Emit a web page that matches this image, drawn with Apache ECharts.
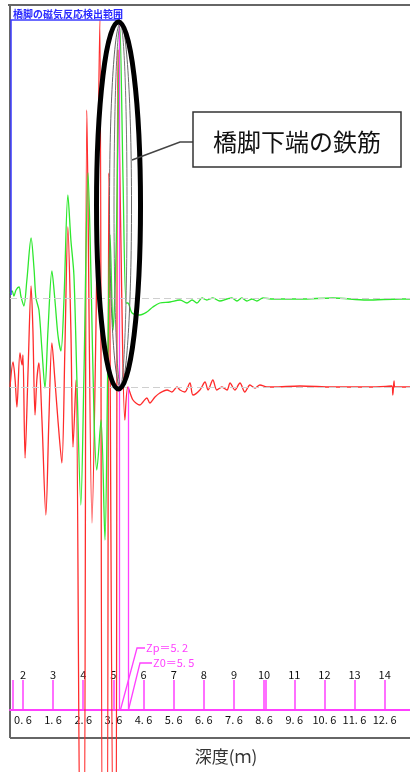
<!DOCTYPE html>
<html>
<head>
<meta charset="utf-8">
<script src="https://cdn.jsdelivr.net/npm/echarts@6/dist/echarts.min.js"></script>
<style>
  html, body { margin: 0; padding: 0; background: #fff; }
  #chart { width: 410px; height: 772px; }
</style>
</head>
<body>
<div id="chart"></div>
<script>
// upper scale numbers and the depth label offset (depth = upper - 1.4)
const upperTicks = [2, 3, 4, 5, 6, 7, 8, 9, 10, 11, 12, 13, 14]
const tickMarks = [1.65, 2, 3, 4, 5, 6, 7, 8, 9, 10, 10.07, 11, 12, 13, 14]
const depthOffset = 1.4
const zp = 5.2
const z0 = 5.5

// [upper scale, amplitude]  green trace
const greenSignal = [
  [1.57, 0.5], [1.64, 0.7], [1.70, 0.2], [1.77, 0.8], [1.87, 1.1], [1.93, 0.2], [2.03, -0.8],
  [2.13, 1.8], [2.27, 6.0], [2.37, 2.8], [2.43, 0.0], [2.53, -1.2], [2.63, -5.2], [2.73, -9.0],
  [2.83, -3.2], [2.96, 2.7], [3.06, -0.2], [3.16, -3.7], [3.26, -5.3], [3.36, -0.2], [3.49, 10.3],
  [3.59, 5.8], [3.69, 2.3], [3.79, -8.2], [3.92, -20.7], [4.02, -8.2], [4.16, 12.5], [4.26, 1.8],
  [4.36, -12.2], [4.45, -17.2], [4.59, -12.2], [4.72, -24.2], [4.82, -5.2], [4.89, 6.3],
  [4.99, -3.2], [5.09, 4.8], [5.22, 27.0], [5.32, 11.8], [5.42, -0.5], [5.48, -0.5], [5.62, -1.5],
  [5.88, -1.7], [6.11, -1.4], [6.31, -0.9], [6.54, -0.5], [6.88, -0.4], [7.21, -0.2], [7.44, -0.5],
  [7.61, -0.2], [7.77, -0.5], [7.94, 0.0], [8.10, -0.2], [8.30, 0.0], [8.53, -0.3], [8.77, -0.1],
  [8.93, 0.0], [9.10, -0.3], [9.26, 0.0], [9.43, -0.3], [9.60, -0.1], [9.76, -0.3], [9.96, 0.0],
  [10.29, -0.1], [11.19, -0.1], [12.28, 0.0], [13.41, -0.2], [14.50, -0.1], [14.84, -0.1]
]

// [upper scale, amplitude]  red trace
const redSignal = [
  [1.57, 0], [1.67, 2.5], [1.74, 0.7], [1.80, -2.0], [1.90, 3.4], [1.97, 2.2], [2.00, 3.2],
  [2.07, -7.1], [2.17, 1.7], [2.27, 10.1], [2.33, 5.7], [2.40, -2.8], [2.46, 0.7], [2.53, 2.4],
  [2.63, -3.3], [2.76, -12.8], [2.86, -3.3], [2.96, 4.4], [3.06, 0.7], [3.16, -3.3], [3.29, -7.6],
  [3.39, 3.7], [3.49, 16.0], [3.59, 5.7], [3.66, -6.0], [3.76, 0.7], [3.92, -50], [4.02, -50],
  [4.12, 27.7], [4.29, -13.6], [4.42, 5.7], [4.55, 36.7], [4.65, -50], [4.78, -50], [4.85, 21.4],
  [5.01, -50], [5.08, -50], [5.15, 33.7], [5.28, 8.7], [5.38, -3.3], [5.48, 0], [5.65, -1.3],
  [5.88, -1.8], [5.98, -1.5], [6.11, -1.1], [6.21, -1.6], [6.38, -1.0], [6.54, -0.6], [6.78, -0.3],
  [6.94, -0.5], [7.11, 0], [7.21, -0.3], [7.37, -0.5], [7.54, 0.4], [7.64, -0.8], [7.87, -0.3],
  [8.04, 0.5], [8.14, -0.3], [8.30, 0.7], [8.43, -0.3], [8.60, 0], [8.77, -0.3], [8.87, 0.4],
  [9.03, -0.3], [9.20, 0.4], [9.36, -0.5], [9.53, 0.2], [9.70, -0.1], [9.86, 0.2], [10.09, 0],
  [10.29, 0], [11.19, 0.1], [12.28, 0], [13.51, 0], [14.24, 0.1], [14.27, -0.8], [14.31, 0.6],
  [14.34, 0], [14.84, 0]
]

const FONT = "'Noto Sans CJK JP', 'Noto Sans', sans-serif"
const MAGENTA = '#ff40ff'

const chart = echarts.init(document.getElementById('chart'), null, { renderer: 'canvas' })

const xMin = 1.57
const xMax = 14.84

const option = {
  animation: false,
  backgroundColor: '#fff',
  grid: { left: 10, right: 0, top: 5, bottom: 62 },
  xAxis: [
    {
      type: 'value', min: xMin, max: xMax, position: 'bottom',
      splitLine: { show: false },
      axisLine: { show: true, onZero: false, lineStyle: { color: MAGENTA, width: 2 } },
      axisTick: { show: true, inside: true, length: 30, customValues: tickMarks,
        lineStyle: { color: MAGENTA, width: 1.5 } },
      axisLabel: {
        customValues: upperTicks, margin: 4, color: '#111', fontSize: 11, fontFamily: FONT,
        formatter: v => (v - depthOffset).toFixed(1).replace('.', '. ')
      }
    },
    {
      type: 'value', min: xMin, max: xMax, position: 'bottom',
      splitLine: { show: false },
      axisLine: { show: false, onZero: false },
      axisTick: { show: false },
      axisLabel: {
        customValues: upperTicks, inside: true, margin: 30, color: '#111', fontSize: 11, fontFamily: FONT,
        formatter: v => String(v)
      }
    }
  ],
  yAxis: [
    { type: 'value', show: false, min: -41.2, max: 29.3, splitLine: { show: false } },
    { type: 'value', show: false, min: -32.3, max: 38.2, splitLine: { show: false } }
  ],
  series: [
    {
      name: 'red', type: 'line', xAxisIndex: 0, yAxisIndex: 1, data: redSignal,
      smooth: 0.3, symbol: 'none', clip: false,
      lineStyle: { color: '#ff2b2b', width: 1.3 },
      markLine: {
        silent: true, symbol: 'none', label: { show: false },
        lineStyle: { color: '#cfcfcf', type: [7, 4], width: 1.2 },
        data: [
          { yAxis: 0 },
          [{ coord: [z0, 0], lineStyle: { color: MAGENTA, type: 'solid', width: 1.3 } }, { coord: [z0, -32.3] }]
        ]
      }
    },
    {
      name: 'green', type: 'line', xAxisIndex: 0, yAxisIndex: 0, data: greenSignal,
      smooth: 0.3, symbol: 'none', clip: false,
      lineStyle: { color: '#2ee82e', width: 1.3 },
      markLine: {
        silent: true, symbol: 'none', label: { show: false },
        lineStyle: { color: '#cfcfcf', type: [7, 4], width: 1.2 },
        data: [
          { yAxis: 0 },
          [{ coord: [zp, 27.3], lineStyle: { color: MAGENTA, type: 'solid', width: 1.3 } }, { coord: [zp, -41.2] }]
        ]
      }
    }
  ]
}

chart.setOption(option)

// annotations placed from the axis scale
const px = v => chart.convertToPixel({ xAxisIndex: 0 }, v)
const baseY = 710
const xZp = px(zp)
const xZ0 = px(z0)
const xLeft = px(xMin)
const xRight = px(xMax)
const ellX = px(5.17)

chart.setOption({
  graphic: [
    // frame
    { type: 'line', z: 0, shape: { x1: xLeft - 2, y1: 5, x2: xRight, y2: 5 }, style: { stroke: '#666', lineWidth: 2 } },
    { type: 'line', z: 0, shape: { x1: xLeft, y1: 5, x2: xLeft, y2: 738 }, style: { stroke: '#666', lineWidth: 2 } },
    { type: 'line', z: 0, shape: { x1: xLeft, y1: 738, x2: xRight, y2: 738 }, style: { stroke: '#666', lineWidth: 2 } },
    // detection range bracket
    { type: 'polyline', z: 5, shape: { points: [[xLeft + 1, 295], [xLeft + 1, 20], [xZp, 20]] },
      style: { stroke: '#3b3bff', lineWidth: 1.5, fill: null } },
    { type: 'line', z: 5, shape: { x1: xZp, y1: 15, x2: xZp, y2: 21 }, style: { stroke: '#3b3bff', lineWidth: 1.5 } },
    { type: 'text', z: 5, style: { text: '橋脚の磁気反応検出範囲', x: xLeft + 3, y: 14, fill: '#2a2aff',
        font: 'bold 10px ' + FONT, textAlign: 'left', textVerticalAlign: 'middle' } },
    // Zp / Z0 leaders
    { type: 'polyline', z: 5, shape: { points: [[xZp + 1, baseY], [137, 648], [145, 648]] },
      style: { stroke: MAGENTA, lineWidth: 1.3, fill: null } },
    { type: 'polyline', z: 5, shape: { points: [[xZ0, baseY], [140, 663], [152, 663]] },
      style: { stroke: MAGENTA, lineWidth: 1.3, fill: null } },
    { type: 'text', z: 5, style: { text: 'Zp＝' + zp.toFixed(1).replace('.', '. '), x: 146, y: 648, fill: MAGENTA,
        font: '11px ' + FONT, textAlign: 'left', textVerticalAlign: 'middle' } },
    { type: 'text', z: 5, style: { text: 'Z0＝' + z0.toFixed(1).replace('.', '. '), x: 153, y: 663, fill: MAGENTA,
        font: '11px ' + FONT, textAlign: 'left', textVerticalAlign: 'middle' } },
    // ellipse highlight
    { type: 'ellipse', z: 50, shape: { cx: ellX + 2, cy: 205, rx: 11, ry: 182 },
      style: { stroke: '#666', lineWidth: 1, fill: null } },
    { type: 'ellipse', z: 50, shape: { cx: ellX + 2, cy: 205, rx: 6.5, ry: 180 },
      style: { stroke: '#777', lineWidth: 1, fill: null } },
    { type: 'ellipse', z: 60, shape: { cx: ellX, cy: 205.5, rx: 22, ry: 183.5 },
      style: { stroke: '#000', lineWidth: 5, fill: null } },
    // callout
    { type: 'polyline', z: 60, shape: { points: [[193, 142], [180, 142], [132, 160]] },
      style: { stroke: '#444', lineWidth: 1.5, fill: null } },
    { type: 'rect', z: 60, shape: { x: 193, y: 112, width: 208, height: 55 },
      style: { fill: '#fff', stroke: '#333', lineWidth: 1.5 } },
    { type: 'text', z: 61, style: { text: '橋脚下端の鉄筋', x: 297, y: 142, fill: '#111',
        font: '24px ' + FONT, textAlign: 'center', textVerticalAlign: 'middle' } },
    // axis title
    { type: 'text', z: 5, style: { text: '深度(ｍ)', x: 226, y: 757, fill: '#333',
        font: '17px ' + FONT, textAlign: 'center', textVerticalAlign: 'middle' } }
  ]
})
</script>
</body>
</html>
